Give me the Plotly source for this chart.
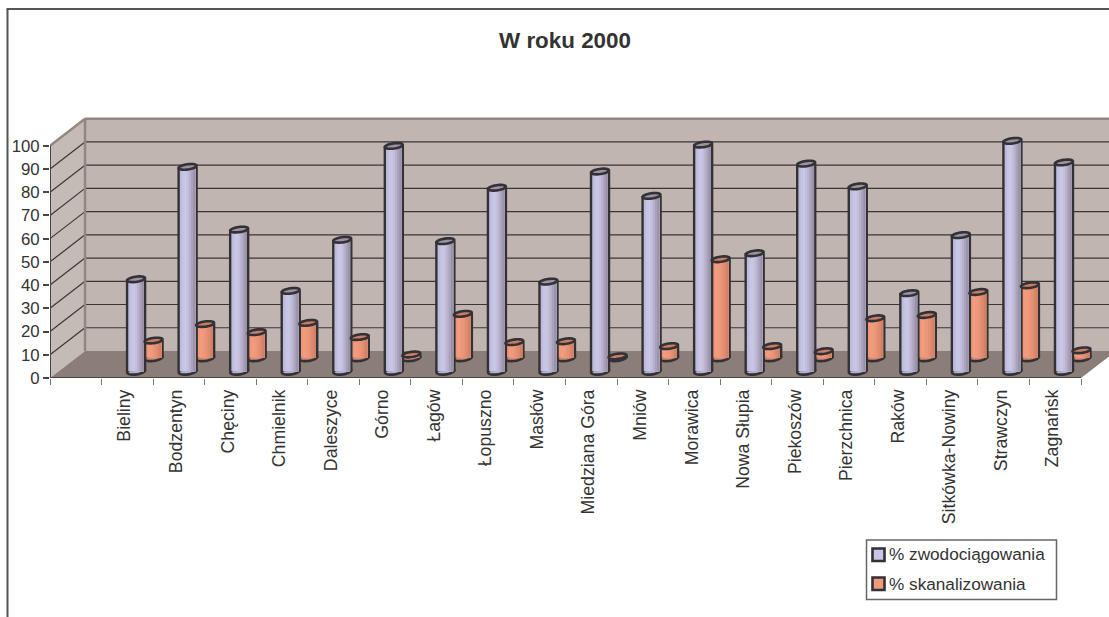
import math
import plotly.graph_objects as go

# ---- data -------------------------------------------------------------
categories = ["Bieliny", "Bodzentyn", "Chęciny", "Chmielnik", "Daleszyce", "Górno", "Łagów",
              "Łopuszno", "Masłów", "Miedziana Góra", "Mniów", "Morawica", "Nowa Słupia",
              "Piekoszów", "Pierzchnica", "Raków", "Sitkówka-Nowiny", "Strawczyn", "Zagnańsk"]
zwodociagowania = [39.6, 88, 61, 34.6, 56.6, 97, 56, 79, 38.6, 86, 75.5, 97.6, 50.8, 89.4, 79.6,
                   33.6, 58.6, 99.2, 89.9]
skanalizowania = [7.4, 14.5, 11, 15, 8.9, 1.4, 18.9, 6.7, 7.1, 0.6, 5, 42.4, 5, 2.8, 17,
                  18.4, 28.3, 31.2, 3.2]
y_ticks = list(range(0, 101, 10))
title_text = "W roku 2000"
series_names = ["% zwodociągowania", "% skanalizowania"]

# ---- geometry (figure pixels) -----------------------------------------
W, H = 1109, 617
X0, Y0 = 50.0, 377.7
SLOT = 51.55
UNIT = 2.32
DEPTH_X, DEPTH_Y = 35.0, 27.0
TOP_PX = 108.0
OUTER = 20.4
CYL = 15.6

x_max = (W - X0) / SLOT
y_max = (Y0 - TOP_PX) / UNIT
dx = DEPTH_X / SLOT
dy = DEPTH_Y / UNIT

blue_strips = ["#BDBBDA", "#C6C4E2", "#C9C7E5", "#C3BFDC", "#B8B2CE", "#AAA2BA", "#9C92A8"]
orange_strips = ["#EE9678", "#F29C7E", "#F09A7C", "#EC9679", "#E59074", "#DC896D", "#D08166"]
OUTLINE = "#333135"
WALL = "#C0B5B1"
SIDE = "#C4BAB6"
FLOOR = "#8B7E79"
EDGE = "#938682"
TEXT = "#333333"


def poly(points):
    return "M " + " L ".join(f"{a:.4f},{b:.4f}" for a, b in points) + " Z"


def ellipse(cx, cy, rx_px, ry_px, rot_deg=-8):
    pts = []
    r = math.radians(rot_deg)
    for k in range(36):
        t = 2 * math.pi * k / 36
        ex = rx_px * math.cos(t)
        ey = ry_px * math.sin(t)
        qx = ex * math.cos(r) - ey * math.sin(r)
        qy = ex * math.sin(r) + ey * math.cos(r)
        pts.append((cx + qx / SLOT, cy - qy / UNIT))
    return poly(pts)


shapes = []
# walls + floor
shapes.append(dict(type="path", layer="below", xref="x", yref="y", line_width=0, fillcolor=WALL,
                   path=poly([(dx, dy), (x_max + 1, dy), (x_max + 1, 100 + dy), (dx, 100 + dy)])))
shapes.append(dict(type="path", layer="below", xref="x", yref="y", line_width=0, fillcolor=SIDE,
                   path=poly([(0, 0), (dx, dy), (dx, 100 + dy), (0, 100)])))
shapes.append(dict(type="path", layer="below", xref="x", yref="y", line_width=0, fillcolor=FLOOR,
                   path=poly([(0, 0), (20, 0), (20 + dx, dy), (x_max + 1, dy), (dx, dy)])))
# grid on the walls
for v in y_ticks[1:-1]:
    shapes.append(dict(type="line", layer="below", xref="x", yref="y", x0=0, y0=v, x1=dx, y1=v + dy,
                       line=dict(color="#3A3636", width=1.2)))
    shapes.append(dict(type="line", layer="below", xref="x", yref="y", x0=dx, y0=v + dy, x1=x_max + 1,
                       y1=v + dy, line=dict(color="#3A3636", width=1.2)))
# wall edges
shapes.append(dict(type="line", layer="below", xref="x", yref="y", x0=dx, y0=dy, x1=dx, y1=100 + dy,
                   line=dict(color=EDGE, width=2.5)))
shapes.append(dict(type="line", layer="below", xref="x", yref="y", x0=dx, y0=100 + dy, x1=x_max + 1,
                   y1=100 + dy, line=dict(color=EDGE, width=2.5)))
shapes.append(dict(type="line", layer="below", xref="x", yref="y", x0=0, y0=100, x1=dx, y1=100 + dy,
                   line=dict(color=EDGE, width=2.5)))

traces = []
rows = [(skanalizowania, 0.75, orange_strips, "#D38A72", "#C67F66"),
        (zwodociagowania, 0.25, blue_strips, "#B6B2D0", "#9C92A2")]
for values, frac, strips, body_mid, cap in rows:
    xs = [i + 1.5 + frac * dx for i in range(len(values))]
    base = frac * dy
    # bottom arcs
    for xc in xs:
        shapes.append(dict(type="path", layer="below", xref="x", yref="y",
                           path=ellipse(xc, base, OUTER / 2 - 1.2, 3.2), fillcolor=body_mid,
                           line=dict(color=OUTLINE, width=2.6)))
    # outline body
    w_all = CYL / SLOT
    traces.append(go.Bar(x=xs, y=values, base=base, width=OUTER / SLOT,
                         marker=dict(color=OUTLINE, line_width=0), hoverinfo="skip", showlegend=False))
    n = len(strips)
    for k, c in enumerate(strips):
        traces.append(go.Bar(x=xs, y=values, base=base, width=w_all * (n - k) / n,
                             offset=-w_all / 2 + k * w_all / n,
                             marker=dict(color=c, line_width=0), hoverinfo="skip", showlegend=False))
    # top caps
    for xc, v in zip(xs, values):
        shapes.append(dict(type="path", layer="above", xref="x", yref="y",
                           path=ellipse(xc, base + v, OUTER / 2 - 1.2, 2.6), fillcolor=cap,
                           line=dict(color=OUTLINE, width=2.6)))

# axis lines
shapes.append(dict(type="line", layer="above", xref="x", yref="y", x0=0, y0=0, x1=20, y1=0,
                   line=dict(color="#4A4646", width=2)))
shapes.append(dict(type="line", layer="above", xref="x", yref="y", x0=0, y0=0, x1=0, y1=100,
                   line=dict(color="#4A4646", width=2)))

# chart frame (top and left only: the picture is cropped)
mt = TOP_PX
mb = H - Y0
pw = W - X0
ph = H - mt - mb


def pfx(x):
    return (x - X0) / pw


def pfy(y):
    return 1 - (y - mt) / ph


shapes.append(dict(type="line", xref="paper", yref="paper", x0=pfx(6.5), y0=pfy(9), x1=pfx(W), y1=pfy(9),
                   line=dict(color="#555555", width=2)))
shapes.append(dict(type="line", xref="paper", yref="paper", x0=pfx(7.5), y0=pfy(9), x1=pfx(7.5), y1=pfy(H),
                   line=dict(color="#555555", width=2)))

# legend box
LX0, LX1, LY0, LY1 = 866.5, 1056.5, 539.5, 599
shapes.append(dict(type="rect", xref="paper", yref="paper", x0=pfx(LX0), x1=pfx(LX1), y0=pfy(LY0), y1=pfy(LY1),
                   fillcolor="white", line=dict(color="#666666", width=1.5)))
annotations = []
for name, col, yc in zip(series_names, ["#C8C6E6", "#F09A7C"], [554, 583]):
    shapes.append(dict(type="rect", xref="paper", yref="paper", x0=pfx(872.5), x1=pfx(884.5), y0=pfy(yc - 6),
                       y1=pfy(yc + 6.5), fillcolor=col, line=dict(color=OUTLINE, width=2.6)))
    annotations.append(dict(text=name, xref="paper", yref="paper", x=pfx(887), y=pfy(yc), xanchor="left",
                            yanchor="middle", showarrow=False,
                            font=dict(family="Liberation Sans", size=17.2, color=TEXT)))

fig = go.Figure(traces)
fig.update_layout(
    width=W, height=H, autosize=False,
    margin=dict(l=X0, r=0, t=mt, b=mb, pad=0),
    paper_bgcolor="white", plot_bgcolor="white",
    barmode="overlay", showlegend=False,
    shapes=shapes, annotations=annotations,
    font=dict(family="Liberation Sans", color=TEXT),
    title=dict(text=f"<b>{title_text}</b>", x=565 / W, y=1 - 40 / H, xanchor="center", yanchor="middle",
               font=dict(family="Liberation Sans", size=22.4, color=TEXT)),
    xaxis=dict(range=[0, x_max], showgrid=False, zeroline=False, showline=False,
               tickmode="array", tickvals=[i + 1.45 for i in range(len(categories))], ticktext=categories,
               tickangle=-90, ticks="", ticklabelstandoff=7, tickfont=dict(size=17.7, color=TEXT),
               minor=dict(tickmode="array", tickvals=list(range(0, 21)), ticks="outside", ticklen=6,
                          tickwidth=1.2, tickcolor="#777777", showgrid=False)),
    yaxis=dict(range=[0, y_max], showgrid=False, zeroline=False, showline=False,
               tickmode="array", tickvals=y_ticks, ticks="outside", ticklen=6, tickwidth=1.5,
               tickcolor="#4A4646", tickfont=dict(size=16.8, color=TEXT)),
)

fig.write_html("out.html", config=dict(displayModeBar=False),
               post_script="document.body.style.margin='0';document.body.style.overflow='hidden';")
